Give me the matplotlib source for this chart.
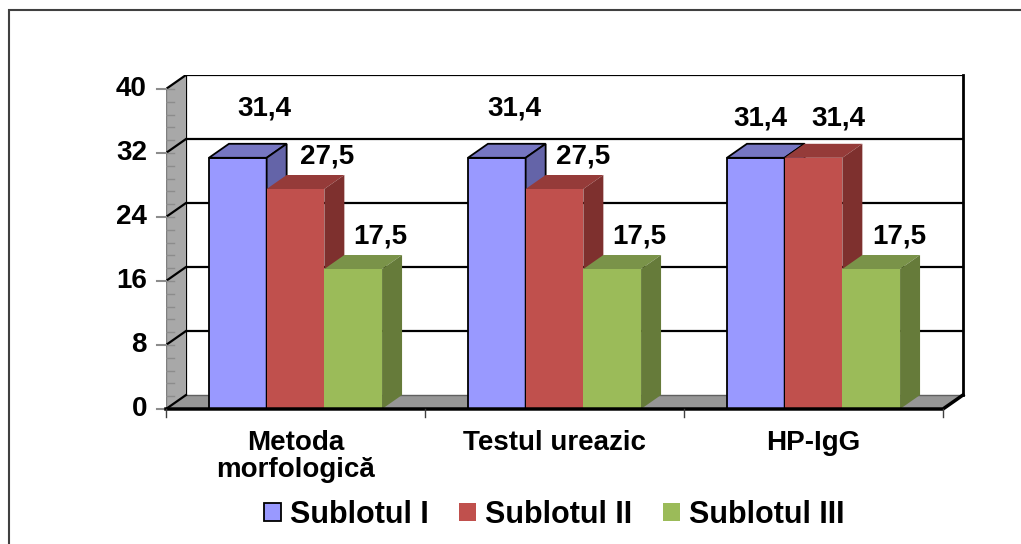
import numpy as np
import matplotlib.pyplot as plt
from matplotlib.patches import Polygon, Rectangle, Patch

plt.rcParams['font.family'] = ['Liberation Sans', 'DejaVu Sans']
plt.rcParams['font.weight'] = 'bold'

# date
categories = ['Metoda\nmorfologică', 'Testul ureazic', 'HP-IgG']
series = ['Sublotul I', 'Sublotul II', 'Sublotul III']
sublot_1 = [31.4, 31.4, 31.4]
sublot_2 = [27.5, 27.5, 31.4]
sublot_3 = [17.5, 17.5, 17.5]
yticks = [0, 8, 16, 24, 32, 40]

values = [sublot_1, sublot_2, sublot_3]
front_c = ['#9999FF', '#C0504D', '#9BBB59']
top_c = ['#7676C2', '#953B39', '#7A9349']
side_c = ['#6464A8', '#7E302E', '#667B3A']
edge_c = ['black', 'none', 'none']
# pozitia etichetelor (pixeli fata de varful barei)
lab_off = [[(27, 49), (32, 33), (27, 33)],
           [(18, 49), (29, 33), (27, 33)],
           [(5, 39), (25, 39), (28, 33)]]

W, H = 1021, 544
fig = plt.figure(figsize=(W / 100, H / 100), dpi=100)
fig.patch.set_facecolor('white')
ax = fig.add_axes([166 / W, (H - 409) / H, 800 / W, 334 / H])
cat_px = 259
ax.set_xlim(-0.5, -0.5 + 800 / cat_px)
ax.set_ylim(0, 334 / 8)
ax.axis('off')
dx = 20 / cat_px
dy = 14 / 8
x_l, x_r = -0.5, len(categories) - 0.5

# perete lateral si podea
ax.add_patch(Polygon([(x_l, 0), (x_l + dx, dy), (x_l + dx, 40 + dy), (x_l, 40)],
                     closed=True, fc='#A8A8A8', ec='none', zorder=2))
ax.add_patch(Polygon([(x_l, 0), (x_r, 0), (x_r + dx, dy), (x_l + dx, dy)],
                     closed=True, fc='#969696', ec='none', zorder=2))
ax.plot([x_l, x_l], [0, 40], color='#7F7F7F', lw=1, zorder=2.5)

# grila pe peretele din spate
for v in yticks:
    if v > 0:
        ax.plot([x_l + dx, x_r + dx], [v + dy, v + dy], color='black', lw=1.6, zorder=1)
    else:
        ax.plot([x_l + dx, x_r + dx], [dy, dy], color='#606060', lw=1, zorder=2.2)
    ax.plot([x_l, x_l + dx], [v, v + dy], color='black', lw=1.6, zorder=2.5)
    ax.plot([x_l - 9 / cat_px, x_l], [v, v], color='#8C8C8C', lw=1.5, zorder=2.5, clip_on=False)
    ax.annotate(str(v), xy=(x_l, v), xytext=(-19, 0), textcoords='offset pixels',
                ha='right', va='center', fontsize=20, annotation_clip=False)
for v in np.arange(0, 40.01, 1.6):
    ax.plot([x_l, x_l + 8 / cat_px], [v, v], color='#8C8C8C', lw=1, zorder=2.6)
ax.plot([x_l + dx, x_l + dx], [dy, 40 + dy], color='black', lw=1.6, zorder=1.5)
ax.plot([x_r + dx, x_r + dx], [dy, 40 + dy], color='black', lw=2, zorder=1.5, clip_on=False)

# bare 3D
w = 0.2228
offs = [-w, 0, w]
z = 3
for i in range(len(categories)):
    for j in range(len(series)):
        h = values[j][i]
        x0 = i + offs[j] - w / 2
        lw = 1.3 if edge_c[j] != 'none' else 0
        ax.bar(x0, h, width=w, align='edge', color=front_c[j], edgecolor=edge_c[j],
               linewidth=lw, zorder=z)
        ax.add_patch(Polygon([(x0, h), (x0 + w, h), (x0 + w + dx, h + dy), (x0 + dx, h + dy)],
                             closed=True, fc=top_c[j], ec=edge_c[j], lw=lw, zorder=z + 1))
        ax.add_patch(Polygon([(x0 + w, 0), (x0 + w + dx, dy), (x0 + w + dx, h + dy), (x0 + w, h)],
                             closed=True, fc=side_c[j], ec=edge_c[j], lw=lw, zorder=z + 1))
        ox, oy = lab_off[i][j]
        ax.annotate(f'{h:.1f}'.replace('.', ','), xy=(x0 + w / 2, h), xytext=(ox, oy),
                    textcoords='offset pixels', ha='center', va='center', fontsize=20,
                    zorder=40, annotation_clip=False)
        z += 3

# margine fata a podelei si axa x
ax.plot([x_l, x_r, x_r + dx], [0, 0, dy], color='black', lw=2.5, zorder=50,
        solid_joinstyle='miter', clip_on=False)
for xt in np.arange(x_l, x_r + 0.01, 1.0):
    ax.plot([xt, xt], [0, -1], color='#404040', lw=1, zorder=50, clip_on=False)
for i, c in enumerate(categories):
    ax.annotate(c, xy=(i, 0), xytext=(0, -21), textcoords='offset pixels',
                ha='center', va='top', fontsize=20, linespacing=1.05,
                annotation_clip=False)

# legenda
handles = [Patch(facecolor=front_c[k], edgecolor='black' if k == 0 else front_c[k],
                 linewidth=1.3 if k == 0 else 0) for k in range(3)]
fig.legend(handles, series, loc='center', bbox_to_anchor=(0.543, (H - 515) / H),
           ncol=3, frameon=False, fontsize=22, handlelength=0.55, handleheight=0.55,
           handletextpad=0.3, columnspacing=1.0, borderpad=0)

# chenar
fig.add_artist(Rectangle((9 / W, -0.1), 1.2, 1.1 - 10 / H, transform=fig.transFigure,
                         fill=False, ec='#404040', lw=1.5))

plt.savefig('out.png', dpi=100)
